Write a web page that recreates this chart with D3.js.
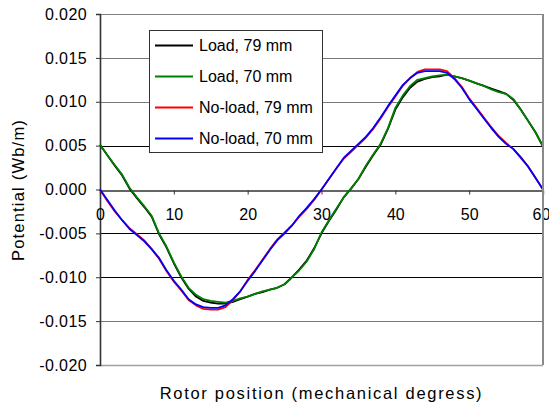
<!DOCTYPE html>
<html>
<head>
<meta charset="utf-8">
<script src="https://cdn.jsdelivr.net/npm/d3@7/dist/d3.min.js"></script>
<style>
  html, body { margin: 0; padding: 0; background: #fff; }
  svg { display: block; font-family: "Liberation Sans", Arial, sans-serif; }
</style>
</head>
<body>
<svg id="chart" width="549" height="409"></svg>
<script>
// Rotor position (degrees), 0..60 step 1
const positions = d3.range(0, 61, 1);

const xTicks = [0, 10, 20, 30, 40, 50, 60];
const yTicks = [-0.020, -0.015, -0.010, -0.005, 0.000, 0.005, 0.010, 0.015, 0.020];

const seriesNames = ["Load, 79 mm", "Load, 70 mm", "No-load, 79 mm", "No-load, 70 mm"];

const load79 = [
  0.0051, 0.0039, 0.0027, 0.0016, 0.0001, -0.0010, -0.0020, -0.0031, -0.0051, -0.0066,
  -0.0084, -0.0100, -0.0113, -0.0122, -0.0127, -0.0129, -0.0130, -0.0130, -0.0128, -0.0125,
  -0.0122, -0.0119, -0.0117, -0.0114, -0.0112, -0.0108, -0.0100, -0.0091, -0.0081, -0.0067,
  -0.0050, -0.0036, -0.0023, -0.0009, 0.0001, 0.0012, 0.0026, 0.0039, 0.0051, 0.0069,
  0.0091, 0.0105, 0.0116, 0.0123, 0.0126, 0.0128, 0.0129, 0.0131, 0.0129, 0.0127,
  0.0124, 0.0121, 0.0118, 0.0115, 0.0112, 0.0109, 0.0102, 0.0091, 0.0078, 0.0065,
  0.0049
];
const load70 = [
  0.0051, 0.0039, 0.0028, 0.0017, 0.0002, -0.0009, -0.0019, -0.0030, -0.0050, -0.0065,
  -0.0083, -0.0099, -0.0112, -0.0120, -0.0125, -0.0127, -0.0128, -0.0129, -0.0127, -0.0124,
  -0.0122, -0.0119, -0.0116, -0.0114, -0.0112, -0.0108, -0.0100, -0.0092, -0.0082, -0.0068,
  -0.0049, -0.0035, -0.0022, -0.0009, 0.0001, 0.0012, 0.0027, 0.0040, 0.0052, 0.0070,
  0.0093, 0.0107, 0.0118, 0.0125, 0.0127, 0.0129, 0.0130, 0.0131, 0.0129, 0.0127,
  0.0124, 0.0121, 0.0118, 0.0114, 0.0111, 0.0109, 0.0103, 0.0091, 0.0078, 0.0065,
  0.0049
];
const noload79 = [
  0.0000, -0.0013, -0.0025, -0.0035, -0.0044, -0.0051, -0.0058, -0.0068, -0.0079, -0.0093,
  -0.0105, -0.0115, -0.0126, -0.0132, -0.0136, -0.0137, -0.0137, -0.0134, -0.0126, -0.0116,
  -0.0103, -0.0092, -0.0080, -0.0068, -0.0057, -0.0049, -0.0041, -0.0031, -0.0022, -0.0012,
  0.0000, 0.0012, 0.0024, 0.0035, 0.0043, 0.0051, 0.0059, 0.0069, 0.0081, 0.0094,
  0.0106, 0.0118, 0.0127, 0.0134, 0.0137, 0.0137, 0.0137, 0.0135, 0.0127, 0.0117,
  0.0104, 0.0093, 0.0082, 0.0071, 0.0061, 0.0053, 0.0046, 0.0037, 0.0026, 0.0013,
  0.0000
];
const noload70 = [
  0.0000, -0.0012, -0.0024, -0.0035, -0.0045, -0.0052, -0.0059, -0.0068, -0.0078, -0.0092,
  -0.0104, -0.0114, -0.0125, -0.0131, -0.0134, -0.0135, -0.0135, -0.0132, -0.0125, -0.0116,
  -0.0104, -0.0093, -0.0081, -0.0069, -0.0058, -0.0050, -0.0041, -0.0030, -0.0021, -0.0011,
  0.0000, 0.0012, 0.0024, 0.0036, 0.0044, 0.0052, 0.0060, 0.0070, 0.0082, 0.0095,
  0.0107, 0.0119, 0.0127, 0.0133, 0.0135, 0.0135, 0.0135, 0.0133, 0.0126, 0.0116,
  0.0103, 0.0092, 0.0081, 0.0070, 0.0060, 0.0052, 0.0046, 0.0036, 0.0026, 0.0013,
  0.0000
];

const seriesColors = ["#000000", "#008000", "#ff0000", "#0000ff"];
const seriesValues = [load79, load70, noload79, noload70];

const svg = d3.select("#chart");
const plot = { left: 100, right: 543, top: 14, bottom: 365 };

const x = d3.scaleLinear().domain([0, 60]).range([plot.left, plot.right]);
const y = d3.scaleLinear().domain([-0.020, 0.020]).range([plot.bottom, plot.top]);

// Gridlines
const grayGrid = new Set([0.015, 0.010, -0.015]);
svg.append("g").selectAll("line")
  .data(yTicks.filter(t => t !== 0 && t !== 0.020 && t !== -0.020))
  .join("line")
  .attr("x1", plot.left).attr("x2", plot.right)
  .attr("y1", d => Math.round(y(d)) + 0.5).attr("y2", d => Math.round(y(d)) + 0.5)
  .attr("stroke", d => grayGrid.has(d) ? "#7a7a7a" : "#000")
  .attr("stroke-width", 1);

// Frame (top, bottom)
const frame = svg.append("g").attr("fill", "none");
frame.append("line").attr("x1", plot.left).attr("x2", plot.right)
  .attr("y1", plot.top + 0.5).attr("y2", plot.top + 0.5).attr("stroke", "#808080");
frame.append("line").attr("x1", plot.left).attr("x2", plot.right)
  .attr("y1", plot.bottom + 0.5).attr("y2", plot.bottom + 0.5).attr("stroke", "#a0a0a0").attr("stroke-width", 1.5);

// Y axis
const yAxis = d3.axisLeft(y).tickValues(yTicks).tickSize(4).tickPadding(9)
  .tickFormat(d => d < 0 ? "-" + d3.format(".3f")(-d) : d3.format(".3f")(d));
const gy = svg.append("g").attr("transform", `translate(${plot.left},0)`).call(yAxis);
gy.select(".domain").attr("stroke", "#333").attr("stroke-width", 1.6);
gy.selectAll(".tick line").attr("stroke", "#333");
gy.selectAll(".tick text")
  .attr("font-size", 16).attr("fill", "#000")
  .attr("font-family", "Liberation Sans, Arial, sans-serif")
  .attr("letter-spacing", 0.4);

// X axis at y=0
const xAxis = d3.axisBottom(x).tickValues(xTicks).tickSize(4).tickPadding(14);
const gx = svg.append("g").attr("transform", `translate(0,${Math.round(y(0)) + 0.5})`).call(xAxis);
gx.select(".domain").attr("stroke", "#333").attr("stroke-width", 1.3);
gx.selectAll(".tick line").attr("stroke", "#333");
gx.selectAll(".tick text")
  .attr("font-size", 16).attr("fill", "#000")
  .attr("font-family", "Liberation Sans, Arial, sans-serif")
  .attr("dx", d => d === 60 ? -2 : 0);

// Lines
const line = d3.line().x((d, i) => x(positions[i])).y(d => y(d));
svg.append("g").selectAll("path")
  .data(seriesValues)
  .join("path")
  .attr("d", d => line(d))
  .attr("fill", "none")
  .attr("stroke", (d, i) => seriesColors[i])
  .attr("stroke-width", 1.8)
  .attr("stroke-linejoin", "round");

// Right frame line drawn over labels
svg.append("line").attr("x1", plot.right).attr("x2", plot.right)
  .attr("y1", plot.top).attr("y2", plot.bottom).attr("stroke", "#8a8a8a").attr("stroke-width", 2);

// Legend
const lg = svg.append("g");
lg.append("rect").attr("x", 149.5).attr("y", 30.5).attr("width", 173).attr("height", 122)
  .attr("fill", "#fff").attr("stroke", "#333").attr("stroke-width", 1);
const items = lg.selectAll("g.item").data(seriesNames).join("g").attr("class", "item")
  .attr("transform", (d, i) => `translate(0,${45.5 + i * 31})`);
items.append("line").attr("x1", 155).attr("x2", 193).attr("y1", 0).attr("y2", 0)
  .attr("stroke", (d, i) => seriesColors[i]).attr("stroke-width", 1.8);
items.append("text").attr("x", 199).attr("y", 0).attr("dy", "0.35em")
  .attr("font-size", 16).attr("fill", "#000").text(d => d);

// Axis titles
svg.append("text")
  .attr("transform", `translate(24,190) rotate(-90)`)
  .attr("text-anchor", "middle").attr("font-size", 16.5).attr("letter-spacing", 1.2)
  .text("Potential (Wb/m)");
svg.append("text")
  .attr("x", (plot.left + plot.right) / 2).attr("y", 399)
  .attr("text-anchor", "middle").attr("font-size", 16.5).attr("letter-spacing", 1.7)
  .text("Rotor position (mechanical degress)");
</script>
</body>
</html>
